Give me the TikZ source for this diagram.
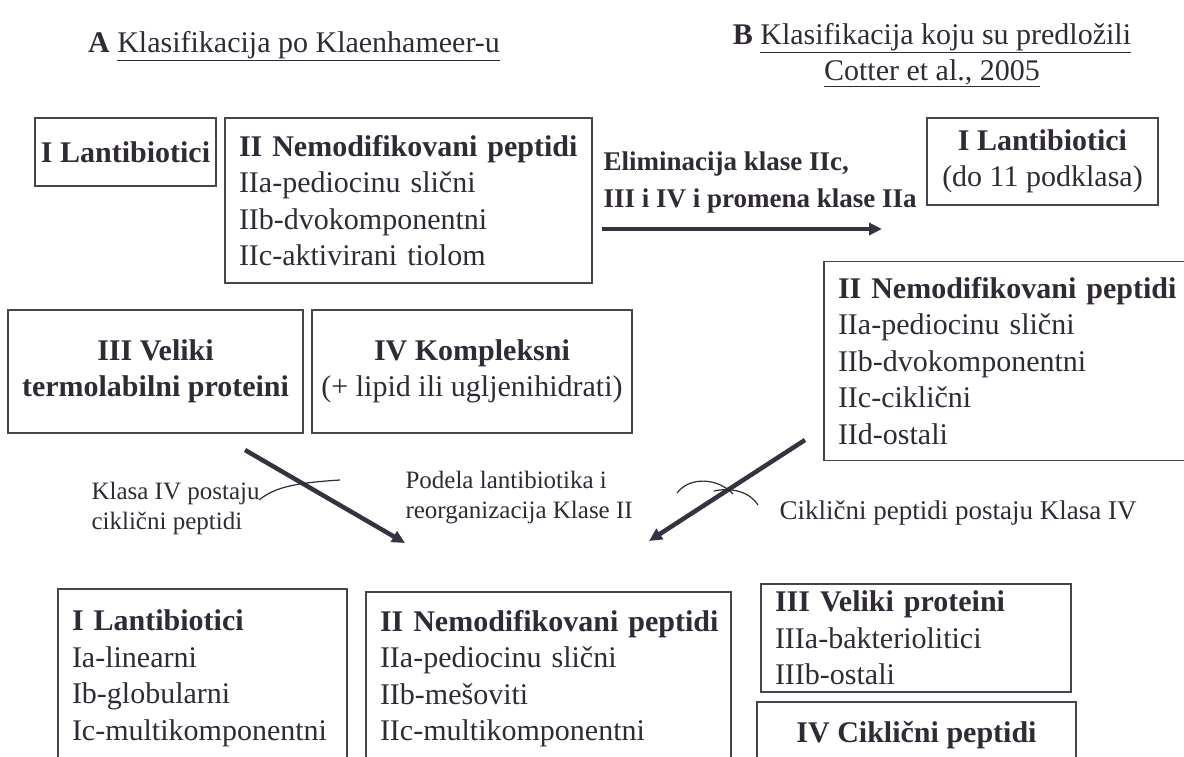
\documentclass[tikz,border=0pt]{standalone}
\usepackage{fontspec}
\setmainfont{Liberation Serif}
\usetikzlibrary{arrows.meta}

\definecolor{ink}{RGB}{48,42,54}
\definecolor{frame}{RGB}{70,68,76}
\definecolor{shaft}{RGB}{55,50,66}
\newcommand{\hd}[1]{\mbox{\bfseries #1}}

\begin{document}
\begin{tikzpicture}%
        [x=1pt, y=-1pt,
        every node/.style={text=ink},
        big/.style={font=\fontsize{30}{36.5}\selectfont},
        note/.style={font=\fontsize{25}{30}\selectfont},
        wnote/.style={font=\fontsize{27}{30}\selectfont},
        bnote/.style={font=\fontsize{27}{37}\selectfont\bfseries},
        box/.style={big, draw=frame, line width=1.2pt, inner ysep=0pt},
        lbox/.style={box, align=left, inner xsep=14pt},
        cbox/.style={box, align=center, inner xsep=4pt},
        move/.style={draw=shaft, line width=4.5pt, -{Triangle[length=13pt,width=12pt]}},
        link/.style={draw=ink, line width=1.2pt}]

    \useasboundingbox (0,0) rectangle (1184,757);
    \clip (0,0) rectangle (1184,757);

    %% Titles
    \node[big] (titA) at (294,46) {\textbf{A} \underline{Klasifikacija po Klaenhameer-u}};
    \node[big, align=center] (titB) at (932,55) {\textbf{B} \underline{Klasifikacija koju su predložili}\\\underline{Cotter et al., 2005}};
    %%
    %% Klaenhammer classes
    %%
    \node[cbox, minimum width=181pt, minimum height=68pt] (lanA) at (125.5,152) {\hd{I Lantibiotici}};
    \node[lbox, text width=339pt, minimum height=165pt] (nemA) at (408.5,200.5)
        {\hd{II Nemodifikovani peptidi}\\IIa-pediocinu slični\\IIb-dvokomponentni\\IIc-aktivirani tiolom};
    \node[cbox, minimum width=295pt, minimum height=123pt] (velA) at (155.5,371.5)
        {\hd{III Veliki}\\\hd{termolabilni proteini}};
    \node[cbox, minimum width=320pt, minimum height=123pt] (kmpA) at (472,371.5)
        {\hd{IV Kompleksni}\\(+ lipid ili ugljenihidrati)};
    %%
    %% Cotter classes
    %%
    \node[cbox, minimum width=231pt, minimum height=87pt] (lanB) at (1042.5,161.5)
        {\hd{I Lantibiotici}\\(do 11 podklasa)};
    \node[lbox, text width=338pt, minimum height=199pt] (nemB) at (1007,361)
        {\hd{II Nemodifikovani peptidi}\\IIa-pediocinu slični\\IIb-dvokomponentni\\IIc-ciklični\\IId-ostali};
    %%
    %% Combined classes
    %%
    \node[lbox, text width=261pt, minimum height=179pt] (lanC) at (202.5,678.5)
        {\hd{I Lantibiotici}\\Ia-linearni\\Ib-globularni\\Ic-multikomponentni};
    \node[lbox, text width=337pt, minimum height=173pt] (nemC) at (548.5,678.5)
        {\hd{II Nemodifikovani peptidi}\\IIa-pediocinu slični\\IIb-mešoviti\\IIc-multikomponentni};
    \node[lbox, text width=282pt, minimum height=108pt] (velC) at (916,638)
        {\hd{III Veliki proteini}\\IIIa-bakteriolitici\\IIIb-ostali};
    \node[cbox, minimum width=319pt, minimum height=66pt] (cikC) at (916.5,735) {\hd{IV Ciklični peptidi}};
    %%
    %% Arrows and their notes
    %%
    \node[bnote, anchor=west, align=left] (elim) at (600,183) {Eliminacija klase IIc,\\III i IV i promena klase IIa};
    \coordinate (e1) at (602,229);
    \coordinate (e2) at (882,229);
    \draw[move] (e1) -- (e2);

    \coordinate (a1) at (245,450);
    \coordinate (a2) at (405,543);
    \draw[move] (a1) -- (a2);
    \coordinate (b1) at (805,440);
    \coordinate (b2) at (649,541);
    \draw[move] (b1) -- (b2);

    \node[note, anchor=west, align=left] (lblA) at (88,508) {Klasa IV postaju\\ciklični peptidi};
    \node[note, anchor=west, align=left] (lblP) at (402,498) {Podela lantibiotika i\\reorganizacija Klase II};
    \node[wnote, anchor=west] (lblC) at (776,513) {Ciklični peptidi postaju Klasa IV};

    \coordinate (k1) at (259,500);
    \coordinate (k2) at (340,480);
    \draw[link] (k1) .. controls (274,488) and (292,483) .. (k2);
    \coordinate (p1) at (677,493);
    \coordinate (p2) at (733,494);
    \draw[link] (p1) .. controls (690,476) and (718,478) .. (p2);
    \coordinate (q1) at (714,491);
    \coordinate (q2) at (758,505);
    \draw[link] (q1) .. controls (732,487) and (750,492) .. (q2);
    %%
    \end{tikzpicture}
\end{document}
